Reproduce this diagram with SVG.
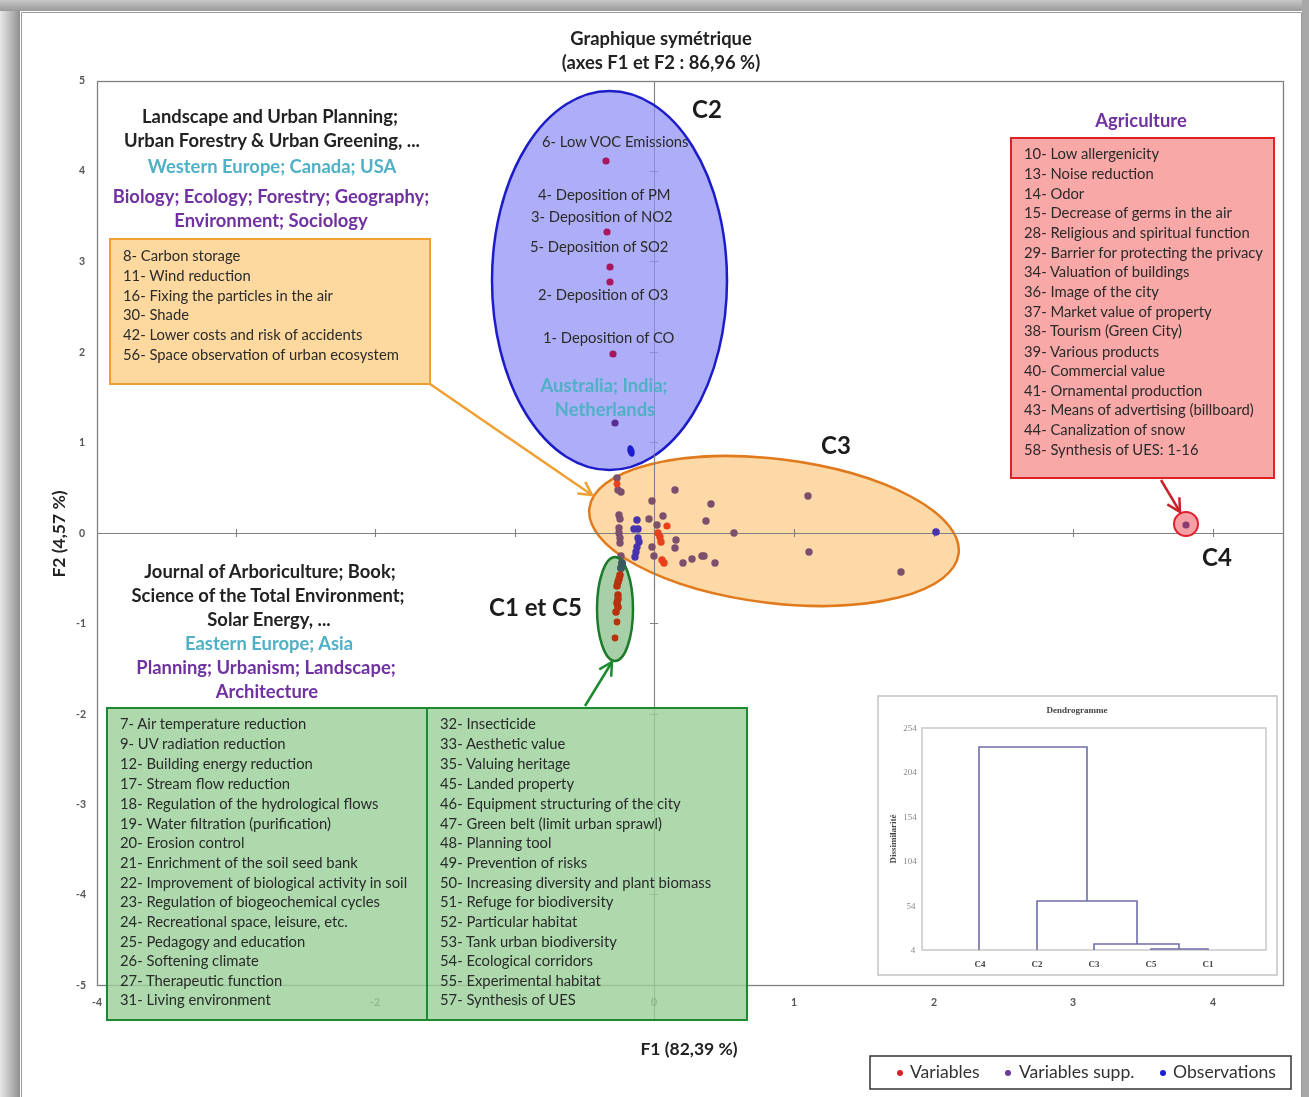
<svg xmlns="http://www.w3.org/2000/svg" width="1309" height="1097" viewBox="0 0 1309 1097">
<style>
text{font-family:"Lato","Carlito","Open Sans",sans-serif;fill:#2a2a2a}
.t{font-size:14.8px}
.h{font-size:18.4px;font-weight:700;text-anchor:middle;fill:#222}
.c{font-size:18.4px;font-weight:700;text-anchor:middle;fill:#4fb0c6}
.p{font-size:18.4px;font-weight:700;text-anchor:middle;fill:#7030a0}
.k{font-size:24px;font-weight:700;fill:#1a1a1a}
.a{font-size:17.5px;font-weight:700;text-anchor:middle;fill:#222}
.n{font-size:10.5px;text-anchor:middle;font-weight:700;fill:#555}
.d{font-family:"Liberation Serif",serif;font-size:9px;font-weight:700;text-anchor:middle;fill:#444}
.dn{font-family:"Liberation Serif",serif;font-size:9px;text-anchor:middle;fill:#888}
.l{font-size:17.6px;fill:#333}
.pu{fill:#7b4f6d}.bl{fill:#4632b0}.re{fill:#e8401c}.dr{fill:#b8300e}.ma{fill:#a8155c}
.tick{stroke:#808080;stroke-width:1.100;fill:none}
.den{stroke:#6f6fa8;stroke-width:1.600;fill:none}
.gb{fill:#98d098;fill-opacity:.8;stroke:#1e8a2e;stroke-width:2}
</style>
<defs>
<filter id="soft" x="0" y="0" width="100%" height="100%"><feGaussianBlur stdDeviation="0.45"/></filter>
<linearGradient id="lg" x1="0" x2="1" y1="0" y2="0"><stop offset="0" stop-color="#e8e8e8"/><stop offset="0.6" stop-color="#b4b4b4"/><stop offset="1" stop-color="#8f8f8f"/></linearGradient>
<linearGradient id="tg" x1="0" x2="0" y1="0" y2="1"><stop offset="0" stop-color="#c8c8c8"/><stop offset="1" stop-color="#9a9a9a"/></linearGradient>
<marker id="ao" markerWidth="18" markerHeight="18" refX="15" refY="9" orient="auto" markerUnits="userSpaceOnUse"><path d="M2 2L15 9L2 16" fill="none" stroke="#f0a030" stroke-width="2.500"/></marker>
<marker id="ar" markerWidth="18" markerHeight="18" refX="15" refY="9" orient="auto" markerUnits="userSpaceOnUse"><path d="M2 2L15 9L2 16" fill="none" stroke="#c8202a" stroke-width="2.500"/></marker>
<marker id="ag" markerWidth="18" markerHeight="18" refX="15" refY="9" orient="auto" markerUnits="userSpaceOnUse"><path d="M2 2L15 9L2 16" fill="none" stroke="#1e8a2e" stroke-width="2.500"/></marker>
</defs>
<g filter="url(#soft)">
<rect width="1309" height="1097" fill="#fff"/>
<rect x="0" y="0" width="20" height="1097" fill="url(#lg)"/>
<rect x="0" y="0" width="1309" height="11" fill="url(#tg)"/>
<rect x="1302" y="0" width="7" height="1097" fill="#a8a8a8"/>
<path d="M21.500 1097V12.500H1301.500V1097" fill="none" stroke="#9a9a9a"/>

<g id="plot">
<rect x="97.500" y="81.500" width="1186" height="904" fill="#fff" stroke="#808080" stroke-width="1.300"/>
<path class="tick" d="M97 533.500H1283M654.500 81V1020"/>
<path class="tick" d="M236.500 529v8M375.500 529v8M515.500 529v8M794.500 529v8M934.500 529v8M1073.500 529v8M1213.500 529v8M650 171.500h8M650 261.500h8M650 352.500h8M650 442.500h8M650 623.500h8M650 714.500h8M650 804.500h8M650 894.500h8"/>
<text class="n" x="82" y="84">5</text><text class="n" x="82" y="174">4</text><text class="n" x="82" y="265">3</text><text class="n" x="82" y="356">2</text><text class="n" x="82" y="446">1</text><text class="n" x="82" y="537">0</text><text class="n" x="81" y="627">-1</text><text class="n" x="81" y="718">-2</text><text class="n" x="81" y="808">-3</text><text class="n" x="81" y="898">-4</text><text class="n" x="81" y="989">-5</text>
<text class="n" x="97" y="1006">-4</text><text class="n" x="236" y="1006">-3</text><text class="n" x="375" y="1006">-2</text><text class="n" x="515" y="1006">-1</text><text class="n" x="654" y="1006">0</text><text class="n" x="794" y="1006">1</text><text class="n" x="934" y="1006">2</text><text class="n" x="1073" y="1006">3</text><text class="n" x="1213" y="1006">4</text>
</g>

<g id="title"><text class="h" x="661" y="45">Graphique symétrique</text><text class="h" x="661" y="69">(axes F1 et F2 : 86,96 %)</text></g>
<text class="a" x="689" y="1055">F1 (82,39 %)</text>
<text class="a" transform="translate(65,534) rotate(-90)">F2 (4,57 %)</text>

<g id="cluster-C2">
<ellipse cx="609.500" cy="280.500" rx="117.500" ry="189.500" fill="#8f8ff5" fill-opacity=".72" stroke="#1c1cc8" stroke-width="2.500"/>
<text class="t" x="542" y="147">6- Low VOC Emissions</text>
<text class="t" x="538" y="200">4- Deposition of PM</text>
<text class="t" x="531" y="222">3- Deposition of NO2</text>
<text class="t" x="530" y="252">5- Deposition of SO2</text>
<text class="t" x="538" y="300">2- Deposition of O3</text>
<text class="t" x="543" y="343">1- Deposition of CO</text>
<text class="c" x="604" y="392">Australia; India;</text><text class="c" x="605" y="416">Netherlands</text>
<circle class="ma" cx="606" cy="161" r="3.600"/><circle class="ma" cx="607" cy="232" r="3.600"/><circle class="ma" cx="610" cy="267" r="3.600"/><circle class="ma" cx="610" cy="282" r="3.600"/><circle class="ma" cx="613" cy="354" r="3.600"/>
<circle cx="615" cy="423" r="3.600" fill="#5a2a90"/>
<ellipse cx="631" cy="451" rx="3.500" ry="6" fill="#1c1cd0" transform="rotate(-15 631 451)"/>
<text class="k" x="692" y="118">C2</text>
</g>

<g id="cluster-C3">
<ellipse cx="774" cy="531" rx="186" ry="72" fill="#fdd9a8" stroke="#e07a1c" stroke-width="2.500" transform="rotate(7 774 531)"/>
<path class="tick" d="M590 533.500H960M654.500 455V590M794.500 529v8M934.500 529v8"/>
<g class="pu"><circle cx="675" cy="490" r="3.700"/><circle cx="652" cy="501" r="3.700"/><circle cx="711" cy="504" r="3.700"/><circle cx="808" cy="496" r="3.700"/><circle cx="663" cy="516" r="3.700"/><circle cx="649" cy="519" r="3.700"/><circle cx="706" cy="521" r="3.700"/><circle cx="657" cy="525" r="3.700"/><circle cx="734" cy="533" r="3.700"/><circle cx="676" cy="540" r="3.700"/><circle cx="675" cy="548" r="3.700"/><circle cx="652" cy="547" r="3.700"/><circle cx="654" cy="556" r="3.700"/><circle cx="809" cy="552" r="3.700"/><circle cx="683" cy="563" r="3.700"/><circle cx="692" cy="559" r="3.700"/><circle cx="702" cy="556" r="3.700"/><circle cx="704" cy="556" r="3.700"/><circle cx="715" cy="563" r="3.700"/><circle cx="901" cy="572" r="3.700"/>
<circle cx="617" cy="478" r="3.700"/><circle cx="618" cy="490" r="3.700"/><circle cx="621" cy="492" r="3.700"/><circle cx="619" cy="515" r="3.700"/><circle cx="620" cy="519" r="3.700"/><circle cx="619" cy="528" r="3.700"/><circle cx="619" cy="533" r="3.700"/><circle cx="620" cy="538" r="3.700"/><circle cx="620" cy="543" r="3.700"/><circle cx="621" cy="556" r="3.700"/></g>
<circle class="re" cx="617" cy="484" r="3.400"/>
<g class="bl"><circle cx="936" cy="532" r="3.800"/><circle cx="637" cy="520" r="3.700"/><circle cx="634" cy="529" r="3.700"/><circle cx="638" cy="529" r="3.700"/><circle cx="638" cy="538" r="3.700"/><circle cx="639" cy="542" r="3.700"/><circle cx="637" cy="547" r="3.700"/><circle cx="636" cy="552" r="3.700"/><circle cx="635" cy="557" r="3.700"/></g>
<g class="re"><circle cx="667" cy="526" r="3.600"/><circle cx="658" cy="533" r="3.700"/><circle cx="660" cy="537" r="3.700"/><circle cx="661" cy="542" r="3.700"/><circle cx="662" cy="560" r="3.700"/><circle cx="664" cy="563" r="3.700"/></g>
<text class="k" x="821" y="454">C3</text>
</g>

<g id="cluster-C1-C5">
<ellipse cx="615" cy="609" rx="18" ry="52" fill="#a8d0a8" stroke="#1e7a2a" stroke-width="2.500"/>
<circle cx="622" cy="563" r="4" fill="#3a5a60"/><circle cx="621" cy="568" r="4" fill="#3a5a60"/>
<g class="dr"><circle cx="620" cy="575" r="3.800"/><circle cx="619" cy="579" r="3.800"/><circle cx="618" cy="582" r="3.800"/><circle cx="617" cy="586" r="3.800"/><circle cx="618" cy="595" r="3.800"/><circle cx="618" cy="599" r="3.800"/><circle cx="617" cy="603" r="3.800"/><circle cx="618" cy="607" r="3.800"/><circle cx="616" cy="612" r="3.800"/><circle cx="617" cy="622" r="3.400"/><circle cx="615" cy="638" r="3.400"/></g>
<text class="k" x="489" y="616">C1 et C5</text>
</g>

<g id="cluster-C4">
<circle cx="1186" cy="524" r="12" fill="#f5a0a5" stroke="#e02030" stroke-width="2"/>
<circle cx="1186" cy="525" r="3.600" fill="#8a3a70"/>
<text class="k" x="1202" y="566">C4</text>
</g>

<g id="connectors" fill="none">
<path d="M430 384L592 495" stroke="#f0a030" stroke-width="2.500" marker-end="url(#ao)"/>
<path d="M1161 480L1180 512" stroke="#c8202a" stroke-width="2.500" marker-end="url(#ar)"/>
<path d="M585 706L612 662" stroke="#1e8a2e" stroke-width="2.500" marker-end="url(#ag)"/>
</g>

<g id="label-top-left">
<text class="h" x="270" y="123">Landscape and Urban Planning;</text>
<text class="h" x="272" y="147">Urban Forestry &amp; Urban Greening, ...</text>
<text class="c" x="272" y="173">Western Europe; Canada; USA</text>
<text class="p" x="271" y="203">Biology; Ecology; Forestry; Geography;</text>
<text class="p" x="271" y="227">Environment; Sociology</text>
</g>
<g id="box-orange">
<rect x="110" y="239" width="320" height="145" fill="#fdd9a0" stroke="#f0a030" stroke-width="2"/>
<text class="t" x="123" y="261">8- Carbon storage</text>
<text class="t" x="123" y="281">11- Wind reduction</text>
<text class="t" x="123" y="301">16- Fixing the particles in the air</text>
<text class="t" x="123" y="320">30- Shade</text>
<text class="t" x="123" y="340">42- Lower costs and risk of accidents</text>
<text class="t" x="123" y="360">56- Space observation of urban ecosystem</text>
</g>

<g id="label-agriculture"><text class="p" x="1141" y="127">Agriculture</text></g>
<g id="box-red">
<rect x="1011" y="138" width="263" height="340" fill="#f9a8a8" stroke="#e02020" stroke-width="2"/>
<text class="t" x="1024" y="159">10- Low allergenicity</text>
<text class="t" x="1024" y="179">13- Noise reduction</text>
<text class="t" x="1024" y="199">14- Odor</text>
<text class="t" x="1024" y="218">15- Decrease of germs in the air</text>
<text class="t" x="1024" y="238">28- Religious and spiritual function</text>
<text class="t" x="1024" y="258">29- Barrier for protecting the privacy</text>
<text class="t" x="1024" y="277">34- Valuation of buildings</text>
<text class="t" x="1024" y="297">36- Image of the city</text>
<text class="t" x="1024" y="317">37- Market value of property</text>
<text class="t" x="1024" y="336">38- Tourism (Green City)</text>
<text class="t" x="1024" y="357">39- Various products</text>
<text class="t" x="1024" y="376">40- Commercial value</text>
<text class="t" x="1024" y="396">41- Ornamental production</text>
<text class="t" x="1024" y="415">43- Means of advertising (billboard)</text>
<text class="t" x="1024" y="435">44- Canalization of snow</text>
<text class="t" x="1024" y="455">58- Synthesis of UES: 1-16</text>
</g>

<g id="label-bottom-left">
<text class="h" x="270" y="578">Journal of Arboriculture; Book;</text>
<text class="h" x="268" y="602">Science of the Total Environment;</text>
<text class="h" x="269" y="626">Solar Energy, ...</text>
<text class="c" x="269" y="650">Eastern Europe; Asia</text>
<text class="p" x="266" y="674">Planning; Urbanism;  Landscape;</text>
<text class="p" x="267" y="698">Architecture</text>
</g>
<g id="box-green-left">
<rect class="gb" x="107" y="708" width="320" height="312"/>
<text class="t" x="120" y="729">7- Air temperature reduction</text>
<text class="t" x="120" y="749">9- UV radiation reduction</text>
<text class="t" x="120" y="769">12- Building energy reduction</text>
<text class="t" x="120" y="789">17- Stream flow reduction</text>
<text class="t" x="120" y="809">18- Regulation of the hydrological flows</text>
<text class="t" x="120" y="829">19- Water filtration (purification)</text>
<text class="t" x="120" y="848">20- Erosion control</text>
<text class="t" x="120" y="868">21- Enrichment of the soil seed bank</text>
<text class="t" x="120" y="888">22- Improvement of biological activity in soil</text>
<text class="t" x="120" y="907">23- Regulation of biogeochemical cycles</text>
<text class="t" x="120" y="927">24- Recreational space, leisure, etc.</text>
<text class="t" x="120" y="947">25- Pedagogy and education</text>
<text class="t" x="120" y="966">26- Softening climate</text>
<text class="t" x="120" y="986">27- Therapeutic function</text>
<text class="t" x="120" y="1005">31- Living environment</text>
</g>
<g id="box-green-right">
<rect class="gb" x="427" y="708" width="320" height="312"/>
<text class="t" x="440" y="729">32- Insecticide</text>
<text class="t" x="440" y="749">33- Aesthetic value</text>
<text class="t" x="440" y="769">35- Valuing heritage</text>
<text class="t" x="440" y="789">45- Landed property</text>
<text class="t" x="440" y="809">46- Equipment structuring of the city</text>
<text class="t" x="440" y="829">47- Green belt (limit urban sprawl)</text>
<text class="t" x="440" y="848">48- Planning tool</text>
<text class="t" x="440" y="868">49- Prevention of risks</text>
<text class="t" x="440" y="888">50- Increasing diversity and plant biomass</text>
<text class="t" x="440" y="907">51- Refuge for biodiversity</text>
<text class="t" x="440" y="927">52- Particular habitat</text>
<text class="t" x="440" y="947">53- Tank urban biodiversity</text>
<text class="t" x="440" y="966">54- Ecological corridors</text>
<text class="t" x="440" y="986">55- Experimental habitat</text>
<text class="t" x="440" y="1005">57-  Synthesis of UES</text>
</g>

<g id="dendrogram">
<rect x="878" y="696" width="399" height="279" fill="#fff" stroke="#c4c4c4" stroke-width="1.500"/>
<rect x="922" y="728" width="344" height="222" fill="#fff" stroke="#c8c8c8" stroke-width="1.500"/>
<text class="d" x="1077" y="713">Dendrogramme</text>
<text class="d" transform="translate(896,839) rotate(-90)">Dissimilarité</text>
<text class="dn" x="910" y="731">254</text><text class="dn" x="910" y="775">204</text><text class="dn" x="910" y="820">154</text><text class="dn" x="910" y="864">104</text><text class="dn" x="911" y="909">54</text><text class="dn" x="913" y="953">4</text>
<path class="den" d="M979 950V747H1087V901M1037 950V901H1137V944M1094 950V944H1179V949M1151 950V949H1208V950"/>
<text class="d" x="980" y="967">C4</text><text class="d" x="1037" y="967">C2</text><text class="d" x="1094" y="967">C3</text><text class="d" x="1151" y="967">C5</text><text class="d" x="1208" y="967">C1</text>
</g>

<g id="legend">
<rect x="870" y="1056" width="421" height="33" fill="#fff" stroke="#333" stroke-width="1.500"/>
<circle cx="900" cy="1073" r="3" fill="#d8202a"/><text class="l" x="910" y="1078">Variables</text>
<circle cx="1008" cy="1073" r="3" fill="#6a3a9a"/><text class="l" x="1019" y="1078">Variables supp.</text>
<circle cx="1163" cy="1073" r="3" fill="#1c1cd0"/><text class="l" x="1173" y="1078">Observations</text>
</g>
</g>
</svg>
